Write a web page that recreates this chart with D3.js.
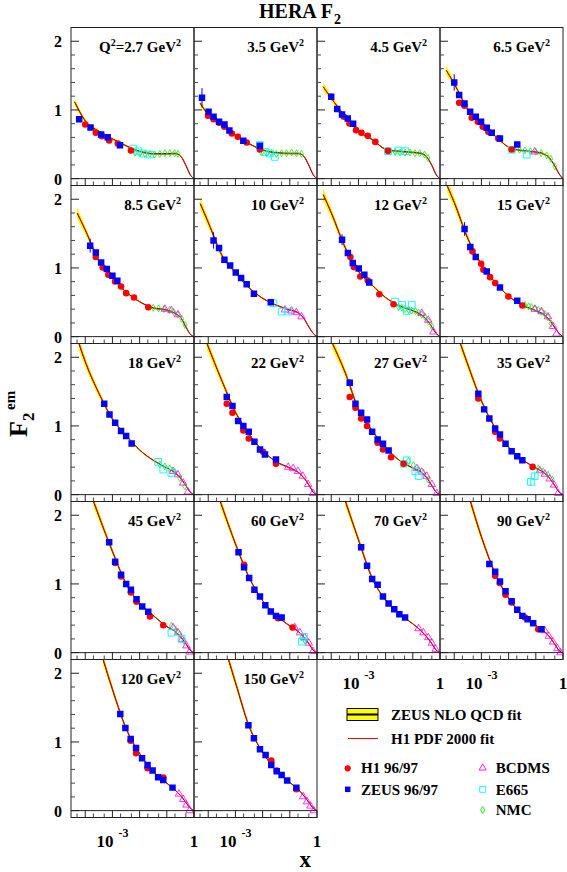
<!DOCTYPE html>
<html>
<head>
<meta charset="utf-8">
<title>HERA F2</title>
<script src="https://cdn.jsdelivr.net/npm/d3@7"></script>
<style>
  body { margin: 0; background: #fff; }
  text { font-family: "Liberation Serif", "Times New Roman", serif; font-weight: bold; fill: #000; }
</style>
</head>
<body>
<svg width="567" height="872"></svg>
<script>
// Q^2 bins (GeV^2), one panel each
const q2Values = [2.7, 3.5, 4.5, 6.5, 8.5, 10, 12, 15, 18, 22, 27, 35, 45, 60, 70, 90, 120, 150];

// ZEUS NLO QCD fit, [x, F2]
const fitCurves = [
  [[4e-5,1.12],[1e-4,0.84],[3.2e-4,0.69],[1e-3,0.58],[3.2e-3,0.48],[0.01,0.40],[0.032,0.365],[0.1,0.365],[0.2,0.37],[0.32,0.33],[0.5,0.19],[0.71,0.06],[1,0]],
  [[5e-5,1.10],[1e-4,0.93],[3.2e-4,0.79],[1e-3,0.63],[3.2e-3,0.51],[0.01,0.42],[0.032,0.38],[0.1,0.37],[0.2,0.37],[0.32,0.33],[0.5,0.19],[0.71,0.06],[1,0]],
  [[5e-5,1.34],[1e-4,1.17],[3.2e-4,0.91],[1e-3,0.69],[3.2e-3,0.57],[0.01,0.43],[0.032,0.40],[0.1,0.385],[0.2,0.37],[0.32,0.32],[0.5,0.19],[0.71,0.06],[1,0]],
  [[5e-5,1.58],[1e-4,1.38],[3.2e-4,1.00],[1e-3,0.79],[3.2e-3,0.62],[0.01,0.46],[0.032,0.41],[0.1,0.39],[0.2,0.36],[0.32,0.30],[0.5,0.18],[0.71,0.07],[1,0]],
  [[5e-5,1.80],[1e-4,1.55],[3.2e-4,1.10],[1e-3,0.85],[3.2e-3,0.65],[0.01,0.51],[0.032,0.42],[0.1,0.39],[0.2,0.34],[0.32,0.28],[0.5,0.14],[0.71,0.04],[1,0]],
  [[5e-5,1.94],[1e-4,1.66],[3.2e-4,1.18],[1e-3,0.93],[3.2e-3,0.71],[0.01,0.56],[0.032,0.46],[0.1,0.39],[0.2,0.35],[0.32,0.27],[0.5,0.14],[0.71,0.05],[1,0]],
  [[5e-5,2.07],[1e-4,1.80],[3.2e-4,1.30],[1e-3,0.95],[3.2e-3,0.75],[0.01,0.57],[0.032,0.45],[0.1,0.38],[0.2,0.32],[0.32,0.25],[0.5,0.14],[0.71,0.05],[1,0]],
  [[5.4e-5,2.2],[1e-4,1.95],[3.2e-4,1.42],[1e-3,1.05],[3.2e-3,0.79],[0.01,0.59],[0.032,0.46],[0.1,0.38],[0.2,0.32],[0.32,0.24],[0.5,0.13],[0.71,0.05],[1,0]],
  [[5.8e-5,2.2],[1e-4,1.93],[3.2e-4,1.47],[1e-3,1.10],[3.2e-3,0.86],[0.01,0.65],[0.032,0.50],[0.1,0.39],[0.2,0.32],[0.32,0.24],[0.5,0.13],[0.71,0.04],[1,0]],
  [[8.9e-5,2.2],[3.2e-4,1.65],[1e-3,1.20],[3.2e-3,0.88],[0.01,0.64],[0.032,0.48],[0.1,0.39],[0.2,0.33],[0.32,0.25],[0.5,0.14],[0.71,0.04],[1,0]],
  [[1.1e-4,2.2],[3.2e-4,1.78],[1e-3,1.24],[3.2e-3,0.93],[0.01,0.69],[0.032,0.50],[0.1,0.39],[0.2,0.33],[0.32,0.25],[0.5,0.13],[0.71,0.04],[1,0]],
  [[1.66e-4,2.2],[3.2e-4,1.88],[1e-3,1.36],[3.2e-3,0.97],[0.01,0.69],[0.032,0.51],[0.1,0.39],[0.2,0.32],[0.32,0.24],[0.5,0.13],[0.71,0.04],[1,0]],
  [[2e-4,2.2],[3.2e-4,1.98],[1e-3,1.47],[3.2e-3,1.00],[0.01,0.72],[0.032,0.54],[0.1,0.38],[0.2,0.31],[0.32,0.23],[0.5,0.13],[0.71,0.04],[1,0]],
  [[2.75e-4,2.2],[1e-3,1.58],[3.2e-3,1.09],[0.01,0.755],[0.032,0.54],[0.1,0.39],[0.2,0.31],[0.32,0.23],[0.5,0.13],[0.71,0.04],[1,0]],
  [[3.3e-4,2.2],[1e-3,1.64],[3.2e-3,1.08],[0.01,0.765],[0.032,0.57],[0.1,0.42],[0.2,0.32],[0.32,0.23],[0.5,0.13],[0.71,0.04],[1,0]],
  [[3.9e-4,2.2],[1e-3,1.68],[3.2e-3,1.15],[0.01,0.79],[0.032,0.55],[0.1,0.40],[0.2,0.31],[0.32,0.23],[0.5,0.12],[0.71,0.03],[1,0]],
  [[4.5e-4,2.2],[1e-3,1.76],[3.2e-3,1.19],[0.01,0.83],[0.032,0.57],[0.1,0.40],[0.2,0.30],[0.32,0.22],[0.5,0.12],[0.71,0.04],[1,0]],
  [[5.5e-4,2.2],[1e-3,1.86],[3.2e-3,1.22],[0.01,0.85],[0.032,0.58],[0.1,0.41],[0.2,0.31],[0.32,0.22],[0.5,0.12],[0.71,0.04],[1,0]]
];

// relative half width of the yellow fit band
const bandX = [4e-5, 1e-4, 3.2e-4, 1e-3, 0.01, 0.1, 1];
const bandRel = [0.045, 0.04, 0.035, 0.03, 0.02, 0.02, 0.03];

// H1 96/97, [x, F2]
const h1Data = [
  [[1e-4,0.788],[2.45e-4,0.667],[4.1e-4,0.618],[7.6e-4,0.555],[1.58e-3,0.511],[4.8e-3,0.409]],
  [[9.8e-5,0.915],[1.57e-4,0.866],[2.5e-4,0.813],[3.95e-4,0.754],[7.4e-4,0.657],[1.23e-3,0.608],[2.6e-3,0.526],[7.9e-3,0.423]],
  [[2.9e-4,0.900],[4.7e-4,0.803],[8.2e-4,0.706],[1.29e-3,0.667],[2.2e-3,0.623],[4.2e-3,0.535],[1.22e-2,0.404]],
  [[1.52e-4,1.105],[2.39e-4,1.061],[4.4e-4,0.886],[7.4e-4,0.827],[1.12e-3,0.754],[1.8e-3,0.681],[4.2e-3,0.584],[1.29e-2,0.423]],
  [[2.45e-4,1.158],[4.4e-4,1.007],[7.1e-4,0.900],[1.25e-3,0.803],[2.08e-3,0.730],[3.2e-3,0.633],[6.2e-3,0.569],[2.08e-2,0.428]],
  [],
  [[5.1e-4,1.158],[6.8e-4,1.012],[1.18e-3,0.876],[2.2e-3,0.818],[5.9e-3,0.618],[1.96e-2,0.472]],
  [[4.7e-4,1.241],[9.8e-4,1.061],[1.18e-3,0.973],[2.08e-3,0.866],[3.2e-3,0.779],[9.8e-3,0.584],[3.2e-2,0.453]],
  [],
  [[4.8e-4,1.324],[7.8e-4,1.192],[1.96e-3,0.934],[3.1e-3,0.818],[1.04e-2,0.623],[3.1e-2,0.448]],
  [[4.8e-4,1.421],[7.8e-4,1.265],[1.26e-3,1.109],[2.08e-3,0.998],[5.1e-3,0.754],[8.0e-3,0.657],[1.58e-2,0.545],[4.6e-2,0.448]],
  [[7.7e-4,1.401],[3.2e-3,0.915],[4.8e-3,0.818],[7.6e-2,0.404]],
  [[1.26e-3,1.304],[2.08e-3,1.109],[4.8e-3,0.876],[7.7e-3,0.740],[2.4e-2,0.526],[7.4e-2,0.399]],
  [[2.08e-3,1.280],[3.7e-2,0.501],[0.126,0.365]],
  [],
  [[3.2e-3,1.119],[4.8e-3,1.012],[7.7e-3,0.842],[1.29e-2,0.730],[4.0e-2,0.511],[0.123,0.341]],
  [[4.7e-3,1.019],[7.4e-3,0.835],[1.96e-2,0.617],[7.4e-2,0.481]],
  [[2.08e-2,0.728],[3.3e-2,0.583],[0.174,0.311]]
];

// ZEUS 96/97, [x, F2, error]
const zeusData = [
  [[6.0e-5,0.866],[1.57e-4,0.745],[3.85e-4,0.642],[6.7e-4,0.603],[1.9e-3,0.487]],
  [[5.9e-5,1.178,0.14],[1.03e-4,0.973],[1.57e-4,0.900],[2.5e-4,0.827],[3.95e-4,0.788],[6.0e-4,0.701],[1.95e-3,0.550],[7.9e-3,0.477]],
  [[1e-4,1.192,0.05],[1.66e-4,1.012],[2.5e-4,0.934],[4.05e-4,0.876],[6.4e-4,0.798]],
  [[1e-4,1.401,0.12],[1.52e-4,1.217],[2.39e-4,1.095],[3.85e-4,0.973],[6.2e-4,0.900],[9.7e-4,0.827],[1.57e-3,0.740],[2.4e-3,0.667],[4.8e-3,0.584],[2.08e-2,0.496]],
  [[1.52e-4,1.324,0.1],[2.45e-4,1.226],[3.85e-4,1.080],[6.2e-4,0.983],[1e-3,0.886],[1.52e-3,0.813]],
  [[1.57e-4,1.401,0.12],[2.5e-4,1.290],[3.95e-4,1.119],[6.4e-4,1.036],[1.03e-3,0.934],[1.62e-3,0.852],[2.6e-3,0.764],[4.8e-3,0.623],[2.0e-2,0.501]],
  [[2.5e-4,1.411,0.08],[4.1e-4,1.217],[6.2e-4,1.071],[1.03e-3,0.993],[1.65e-3,0.900],[2.5e-3,0.788]],
  [[2.4e-4,1.567,0.1],[3.9e-4,1.304],[6.2e-4,1.158],[1.57e-3,0.949],[4.8e-3,0.715],[2.08e-2,0.521]],
  [[5.0e-4,1.324],[7.8e-4,1.168],[1.26e-3,1.046],[2.08e-3,0.925],[3.2e-3,0.852],[5.1e-3,0.745]],
  [[4.8e-4,1.421],[7.8e-4,1.290],[1.26e-3,1.071],[1.96e-3,0.998],[3.1e-3,0.915],[5.0e-3,0.769],[8.0e-3,0.657],[1.22e-2,0.584],[3.1e-2,0.511]],
  [[4.8e-4,1.630,0.05],[7.8e-4,1.324],[1.26e-3,1.192],[2.08e-3,1.095],[3.2e-3,0.915],[5.1e-3,0.803],[8.0e-3,0.740],[1.29e-2,0.642]],
  [[7.7e-4,1.470],[1.26e-3,1.241],[1.96e-3,1.109],[3.2e-3,0.963],[4.8e-3,0.876],[7.7e-3,0.740],[1.29e-2,0.633],[2.08e-2,0.560],[3.2e-2,0.501]],
  [[7.6e-4,1.606],[1.26e-3,1.324],[2.08e-3,1.134],[3.2e-3,0.998],[4.8e-3,0.915],[7.7e-3,0.779],[1.25e-2,0.672],[2.08e-2,0.594]],
  [[1.3e-3,1.460],[2.08e-3,1.241],[3.2e-3,1.085],[5.0e-3,0.915],[8.0e-3,0.818],[1.26e-2,0.691],[2.0e-2,0.599],[3.1e-2,0.535],[5.0e-2,0.511]],
  [[1.26e-3,1.533],[2.08e-3,1.265],[3.2e-3,1.071],[5.1e-3,0.988],[8.0e-3,0.818],[1.29e-2,0.715],[2.08e-2,0.633],[3.2e-2,0.560],[5.2e-2,0.511]],
  [[1.96e-3,1.290],[3.2e-3,1.178],[4.8e-3,1.036],[7.7e-3,0.895],[1.29e-2,0.749],[2.08e-2,0.623],[3.2e-2,0.535],[5.0e-2,0.487],[8.0e-2,0.428],[0.162,0.341]],
  [[1.95e-3,1.408],[3.0e-3,1.204],[4.7e-3,1.044],[7.4e-3,0.913],[1.23e-2,0.762],[1.96e-2,0.665],[3.0e-2,0.583],[4.8e-2,0.485],[7.4e-2,0.447],[0.162,0.335]],
  [[3.0e-3,1.243],[4.8e-3,1.053],[8.0e-3,0.893],[1.29e-2,0.811],[2.08e-2,0.665],[3.3e-2,0.573],[5.0e-2,0.519],[8.0e-2,0.437],[0.174,0.335]]
];

// BCDMS, [x, F2]
const bcdmsData = [
  [], [], [],
  [[0.091,0.39]],
  [[0.085,0.40],[0.148,0.38],[0.257,0.32]],
  [[0.066,0.39],[0.115,0.375],[0.174,0.35],[0.269,0.29]],
  [[0.214,0.34],[0.37,0.24],[0.575,0.07]],
  [[0.091,0.40],[0.162,0.365],[0.28,0.29],[0.43,0.15],[0.575,0.04]],
  [[0.17,0.34],[0.257,0.29],[0.40,0.17],[0.60,0.04]],
  [[0.087,0.40],[0.132,0.38],[0.20,0.34],[0.30,0.27],[0.47,0.15],[0.71,0.02]],
  [[0.141,0.38],[0.214,0.33],[0.324,0.27],[0.5,0.15],[0.76,0.02]],
  [[0.141,0.35],[0.214,0.30],[0.324,0.23],[0.468,0.14],[0.66,0.02]],
  [[0.17,0.365],[0.257,0.29],[0.363,0.195],[0.525,0.10],[0.69,0.01]],
  [[0.151,0.365],[0.234,0.29],[0.355,0.22],[0.50,0.14],[0.71,0.02]],
  [[0.162,0.35],[0.245,0.29],[0.37,0.22],[0.50,0.14],[0.69,0.05]],
  [[0.214,0.32],[0.30,0.24],[0.43,0.155],[0.62,0.06],[0.81,0.0]],
  [[0.28,0.243],[0.40,0.165],[0.525,0.083],[0.69,0.0]],
  [[0.31,0.204],[0.43,0.131],[0.575,0.068],[0.76,0.0]]
];

// E665, [x, F2, error]
const e665Data = [
  [[5.9e-3,0.438],[8.9e-3,0.399],[1.35e-2,0.365],[2.4e-2,0.350]],
  [[7.9e-3,0.49],[1.23e-2,0.389],[1.86e-2,0.365],[2.8e-2,0.316]],
  [[1.22e-2,0.40],[3.0e-2,0.41],[5.3e-2,0.40]],
  [[1.29e-2,0.42],[4.6e-2,0.35]],
  [],
  [[2.5e-2,0.487],[5.0e-2,0.365],[8.7e-2,0.365]],
  [[2.2e-2,0.51],[4.0e-2,0.462],[9.2e-2,0.46],[0.06,0.375]],
  [],
  [[4.8e-2,0.477],[7.4e-2,0.365],[0.148,0.316]],
  [],
  [[4.6e-2,0.45,0.05],[0.06,0.50],[0.123,0.34],[0.165,0.27]],
  [[0.091,0.268,0.05],[0.066,0.185,0.06]],
  [[0.148,0.29],[0.35,0.20]],
  [[0.33,0.23],[0.28,0.16]],
  [], [], [], []
];

// NMC, [x, F2]
const nmcData = [
  [[6.8e-3,0.38],[1.02e-2,0.37],[1.58e-2,0.36],[2.4e-2,0.36],[3.6e-2,0.35],[5.5e-2,0.36],[8.5e-2,0.37],[0.129,0.37],[0.195,0.37],[0.257,0.36]],
  [[9.1e-3,0.38],[1.41e-2,0.37],[2.1e-2,0.37],[3.2e-2,0.36],[5.0e-2,0.37],[7.6e-2,0.37],[0.117,0.38],[0.178,0.37],[0.27,0.36]],
  [[1.48e-2,0.39],[2.24e-2,0.39],[3.4e-2,0.38],[5.2e-2,0.38],[7.9e-2,0.38],[0.12,0.37],[0.18,0.37],[0.27,0.35],[0.36,0.30]],
  [[0.0158,0.43],[0.0251,0.42],[0.0398,0.41],[0.0631,0.40],[0.1,0.39],[0.158,0.37],[0.251,0.34],[0.355,0.29],[0.5,0.18]],
  [[0.0316,0.42],[0.0501,0.41],[0.0794,0.40],[0.126,0.39],[0.178,0.36],[0.251,0.32],[0.355,0.26],[0.468,0.17]],
  [],
  [[0.030,0.43],[0.040,0.42],[0.052,0.40],[0.071,0.39],[0.091,0.38],[0.126,0.37],[0.162,0.35],[0.214,0.32],[0.28,0.29],[0.38,0.22],[0.5,0.15]],
  [[0.040,0.46],[0.055,0.44],[0.069,0.43],[0.095,0.41],[0.123,0.39],[0.16,0.36],[0.214,0.33],[0.28,0.28],[0.37,0.19]],
  [[0.055,0.44],[0.085,0.41],[0.129,0.38],[0.195,0.33],[0.30,0.24],[0.457,0.12]],
  [],
  [[0.069,0.49],[0.105,0.43],[0.162,0.365],[0.245,0.32],[0.37,0.22]],
  [[0.123,0.38],[0.186,0.34],[0.28,0.29],[0.40,0.22]],
  [[0.148,0.39],[0.214,0.33],[0.30,0.27],[0.43,0.17]],
  [[0.28,0.22],[0.37,0.17]],
  [], [], [], []
];

const yTickValues = [0, 1, 2];
const xLabelValues = [1e-3, 1];
const xLabelBase = ["10", "1"];
const xLabelExp = ["-3", ""];

const W = 123, H = 158;
const colLeft = [71, 194, 317, 440];
const rowTop = [27.5, 185.5, 343.5, 501.5, 659.5];

const svg = d3.select("svg");
const x = d3.scaleLog().domain([3e-5, 1]).range([0, W]);
const y = d3.scaleLinear().domain([-0.1, 2.2]).range([H, 0]);
const relWidth = d3.scaleLog().domain(bandX).range(bandRel).clamp(true);

const band = d3.area()
  .x(d => x(d[0]))
  .y0(d => y(d[1] * (1 - relWidth(d[0]))))
  .y1(d => y(d[1] * (1 + relWidth(d[0]))))
  .curve(d3.curveMonotoneX);
const line = d3.line()
  .x(d => x(d[0]))
  .y(d => y(d[1]))
  .curve(d3.curveMonotoneX);

const sym = (type, size) => d3.symbol().type(type).size(size)();

const majorX = x.ticks().filter(v => Math.abs(Math.log10(v) - Math.round(Math.log10(v))) < 1e-6);
const minorX = x.ticks().filter(v => {
  const m = Math.round(v / Math.pow(10, Math.floor(Math.log10(v) + 1e-9)));
  return m === 2 || m === 5;
});
const minorY = d3.range(0, 22).map(k => k / 10).filter(v => Math.round(v * 10) % 2 === 0 && v % 1 !== 0);

function drawPoints(plot, data, type, size, fill, stroke, sw) {
  data.forEach(d => {
    if (d[2]) {
      plot.append("line")
        .attr("x1", x(d[0])).attr("x2", x(d[0]))
        .attr("y1", y(d[1] - d[2])).attr("y2", y(d[1] + d[2]))
        .attr("stroke", stroke || fill).attr("stroke-width", 1);
    }
  });
  plot.selectAll(null)
    .data(data)
    .enter()
    .append("path")
    .attr("d", sym(type, size))
    .attr("transform", d => `translate(${x(d[0])},${y(d[1])})`)
    .attr("fill", fill)
    .attr("stroke", stroke || "none")
    .attr("stroke-width", sw || 0);
}

q2Values.forEach((q2, i) => {
  const col = i % 4, row = Math.floor(i / 4);
  const g = svg.append("g").attr("transform", `translate(${colLeft[col]},${rowTop[row]})`);

  g.append("clipPath").attr("id", "clip" + i)
    .append("rect").attr("width", W).attr("height", H);
  const plot = g.append("g").attr("clip-path", `url(#clip${i})`);

  // fits
  plot.append("path").attr("d", band(fitCurves[i])).attr("fill", "#ffff00");
  plot.append("path").attr("d", line(fitCurves[i]))
    .attr("fill", "none").attr("stroke", "#000").attr("stroke-width", 0.9);
  plot.append("path").attr("d", line(fitCurves[i]))
    .attr("transform", "translate(0.7,0.7)")
    .attr("fill", "none").attr("stroke", "#ff0000").attr("stroke-width", 0.9);

  // data
  drawPoints(plot, nmcData[i], d3.symbolDiamond, 14, "none", "#11ee11", 0.8);
  drawPoints(plot, bcdmsData[i], d3.symbolTriangle, 24, "none", "#ff00ff", 0.8);
  drawPoints(plot, e665Data[i], d3.symbolSquare, 45, "none", "#00ffff", 0.9);
  drawPoints(plot, h1Data[i], d3.symbolCircle, 34, "#ff0000");
  drawPoints(plot, zeusData[i], d3.symbolSquare, 42, "#0000ff");

  // frame, zero line, ticks
  g.append("rect").attr("width", W).attr("height", H)
    .attr("fill", "none").attr("stroke", "#222").attr("stroke-width", 1);
  g.append("line").attr("x1", 0).attr("x2", W).attr("y1", y(0)).attr("y2", y(0))
    .attr("stroke", "#222").attr("stroke-width", 1);
  yTickValues.forEach(v => {
    g.append("line").attr("x1", 0).attr("x2", 8).attr("y1", y(v)).attr("y2", y(v))
      .attr("stroke", "#222");
  });
  minorY.forEach(v => {
    g.append("line").attr("x1", 0).attr("x2", 4).attr("y1", y(v)).attr("y2", y(v))
      .attr("stroke", "#444");
  });
  majorX.forEach(v => {
    g.append("line").attr("x1", x(v)).attr("x2", x(v)).attr("y1", H).attr("y2", H - 7)
      .attr("stroke", "#222");
  });
  minorX.forEach(v => {
    g.append("line").attr("x1", x(v)).attr("x2", x(v)).attr("y1", H).attr("y2", H - 4)
      .attr("stroke", "#444");
  });

  // panel label
  const lab = g.append("text").attr("x", W - 13).attr("y", 24)
    .attr("text-anchor", "end").style("font-size", "15px");
  if (i === 0) {
    lab.append("tspan").text("Q");
    lab.append("tspan").attr("dy", -6).style("font-size", "10px").text("2");
    lab.append("tspan").attr("dy", 6).text("=" + q2 + " GeV");
  } else {
    lab.append("tspan").text(q2 + " GeV");
  }
  lab.append("tspan").attr("dy", -6).style("font-size", "10px").text("2");

  // y labels on first column
  if (col === 0) {
    yTickValues.forEach(v => {
      g.append("text").attr("x", -9).attr("y", y(v) + 6)
        .attr("text-anchor", "end").style("font-size", "16px").text(v);
    });
  }

  // x labels under the lowest panel of each column
  const lowest = (col < 2 && row === 4) || (col >= 2 && row === 3);
  if (lowest) {
    xLabelValues.forEach((v, k) => {
      if (xLabelExp[k]) {
        const t = g.append("text").attr("x", x(v) - 16).attr("y", H + 29)
          .style("font-size", "17px");
        t.append("tspan").text(xLabelBase[k]);
        t.append("tspan").attr("dx", 5).attr("dy", -10).style("font-size", "12px").text(xLabelExp[k]);
      } else {
        g.append("text").attr("x", x(v)).attr("y", H + 29)
          .attr("text-anchor", "middle").style("font-size", "17px").text(xLabelBase[k]);
      }
    });
  }
});

// title
const title = svg.append("text").attr("x", 259).attr("y", 18).style("font-size", "20px");
title.append("tspan").text("HERA F");
title.append("tspan").attr("dx", 1).attr("dy", 6).style("font-size", "14px").text("2");

// axis titles
svg.append("text").attr("x", 311).attr("y", 867).attr("text-anchor", "end")
  .style("font-size", "23px").text("x");
const yl = svg.append("g").attr("transform", "translate(27,437) rotate(-90)");
yl.append("text").attr("x", 0).attr("y", 0).style("font-size", "26px").text("F");
yl.append("text").attr("x", 16).attr("y", 7).style("font-size", "17px").text("2");
yl.append("text").attr("x", 27).attr("y", -12).style("font-size", "15px").text("em");

// legend
const leg = svg.append("g");
leg.append("rect").attr("x", 347).attr("y", 708.5).attr("width", 31).attr("height", 12)
  .attr("fill", "#ffff00").attr("stroke", "#000").attr("stroke-width", 1);
leg.append("line").attr("x1", 347).attr("x2", 378).attr("y1", 714.5).attr("y2", 714.5)
  .attr("stroke", "#000").attr("stroke-width", 2);
leg.append("text").attr("x", 391).attr("y", 720).style("font-size", "15px").text("ZEUS NLO QCD fit");
leg.append("line").attr("x1", 348).attr("x2", 378).attr("y1", 738.5).attr("y2", 738.5)
  .attr("stroke", "#ff0000").attr("stroke-width", 1);
leg.append("text").attr("x", 391).attr("y", 743.5).style("font-size", "15px").text("H1 PDF 2000 fit");

const legendItems = [
  { cx: 347.7, cy: 768.3, type: d3.symbolCircle, size: 30, fill: "#ff0000", stroke: "none", label: "H1 96/97", tx: 361, ty: 773.3 },
  { cx: 347.7, cy: 789.3, type: d3.symbolSquare, size: 30, fill: "#0000ff", stroke: "none", label: "ZEUS 96/97", tx: 361, ty: 795 },
  { cx: 482.7, cy: 768, type: d3.symbolTriangle, size: 22, fill: "none", stroke: "#ff00ff", label: "BCDMS", tx: 495.7, ty: 773.3 },
  { cx: 482.7, cy: 789.3, type: d3.symbolSquare, size: 36, fill: "none", stroke: "#00ffff", label: "E665", tx: 495.7, ty: 795 },
  { cx: 482.7, cy: 810, type: d3.symbolDiamond, size: 14, fill: "none", stroke: "#11ee11", label: "NMC", tx: 495.7, ty: 815 }
];
legendItems.forEach(d => {
  leg.append("path").attr("d", sym(d.type, d.size))
    .attr("transform", `translate(${d.cx},${d.cy})`)
    .attr("fill", d.fill).attr("stroke", d.stroke).attr("stroke-width", 0.9);
  leg.append("text").attr("x", d.tx).attr("y", d.ty).style("font-size", "15px").text(d.label);
});
</script>
</body>
</html>
